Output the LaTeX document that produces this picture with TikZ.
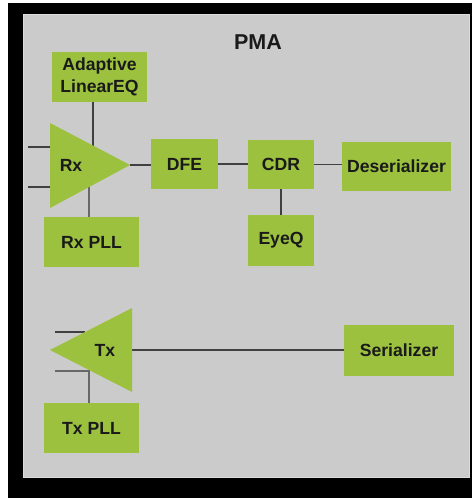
\documentclass[tikz,border=0pt]{standalone}
\usepackage{fontspec}
\setmainfont{Liberation Sans}
\usetikzlibrary{calc}
\definecolor{panelgray}{HTML}{CBCBCB}
\definecolor{paneledge}{HTML}{DCDCDC}
\definecolor{blockgreen}{HTML}{9CC13E}
\definecolor{wirecol}{HTML}{404040}
\definecolor{pllwirecol}{HTML}{686868}
\definecolor{inktext}{HTML}{1A1A1A}
\pgfdeclarelayer{back}
\pgfdeclarelayer{wires}
\pgfsetlayers{back,wires,main}
\begin{document}
\begin{tikzpicture}[x=1pt,y=-1pt,
  lbl/.style={text=inktext, inner sep=0pt, font=\bfseries\fontsize{17.6}{22.5}\selectfont},
  blk/.style={lbl, fill=blockgreen, align=center},
  wire/.style={draw=wirecol, line width=1.8pt},
  pllwire/.style={draw=pllwirecol, line width=2.4pt},
  amp/.style={fill=blockgreen}]
\useasboundingbox (0,0) rectangle (472,498);

% frame and panel
\begin{pgfonlayer}{back}
  \fill[black] (8,3) rectangle (472,498);
  \fill[panelgray, draw=paneledge, line width=0.8pt] (23,14) rectangle (469,477);
\end{pgfonlayer}

\node[lbl, font=\bfseries\fontsize{21.5}{24}\selectfont] (pma) at (258,42) {PMA};

% receive path blocks
\node[blk, minimum width=95pt, minimum height=50pt] (adapt) at (99.5,77) {Adaptive\\LinearEQ};
\node[blk, minimum width=95pt, minimum height=50pt] (rxpll) at (91.5,242) {Rx PLL};
\node[blk, minimum width=67pt, minimum height=50pt] (dfe) at (184.5,164) {DFE};
\node[blk, minimum width=66pt, minimum height=49pt] (cdr) at (281,164.5) {CDR};
\node[blk, minimum width=109pt, minimum height=49pt] (deser) at (396.5,166) {Deserializer};
\node[blk, minimum width=66pt, minimum height=51pt] (eyeq) at (281,240.5) {EyeQ};

% receive amplifier
\coordinate (rxT) at (50,123);
\coordinate (rxB) at (50,208);
\coordinate (rxA) at (130,165);
\fill[amp] (rxT) -- (rxA) -- (rxB) -- cycle;
\node[lbl] (rx) at (71,165) {Rx};
\coordinate (rxi1) at (28,147);
\coordinate (rxi2) at (28,187);
\coordinate (rxeq) at ($(rxT)!0.54!(rxA)$);
\coordinate (rxclk) at ($(rxB)!0.49!(rxA)$);

% transmit path blocks
\node[blk, minimum width=95pt, minimum height=50pt] (txpll) at (91.5,428) {Tx PLL};
\node[blk, minimum width=110pt, minimum height=51pt] (ser) at (399,350) {Serializer};

% transmit amplifier
\coordinate (txA) at (50,350);
\coordinate (txT) at (132,308);
\coordinate (txB) at (132,392);
\fill[amp] (txA) -- (txT) -- (txB) -- cycle;
\node[lbl] (tx) at (105,350) {Tx};
\coordinate (txi1) at (55,332);
\coordinate (txi2) at (55,371);
\coordinate (txe1) at ($(txA)!0.43!(txT)$);
\coordinate (txbend) at (89,371);

% connections
\begin{pgfonlayer}{wires}
  \draw[wire] (rxi1) -- (rxi1 -| rxT);
  \draw[wire] (rxi2) -- (rxi2 -| rxT);
  \draw[wire] (adapt.south -| rxeq) -- (rxeq);
  \draw[pllwire] (rxclk) -- (rxclk |- rxpll.north);
  \draw[wire] (rxA) -- (rxA -| dfe.west);
  \draw[wire] (dfe.east) -- (dfe.east -| cdr.west);
  \draw[wire] (cdr.east) -- (cdr.east -| deser.west);
  \draw[wire] (cdr.south) -- (eyeq.north);
  \draw[wire] (txi1) -- (txi1 -| txe1);
  \draw[pllwire] (txi2) -- (txbend) -- (txbend |- txpll.north);
  \draw[wire] (txA -| txT) -- (ser.west);
\end{pgfonlayer}
\end{tikzpicture}
\end{document}
